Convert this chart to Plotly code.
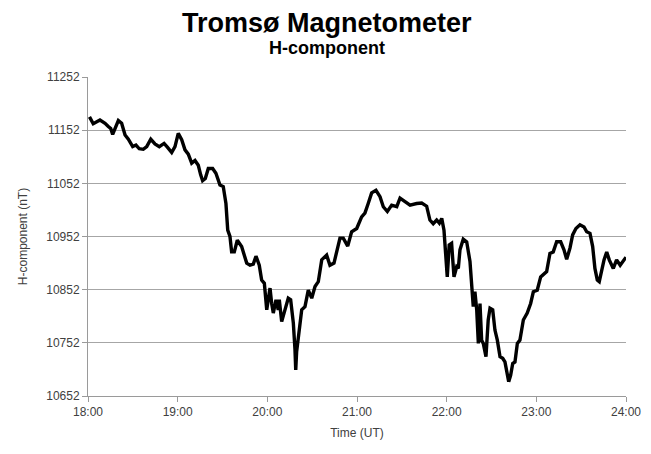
import plotly.graph_objects as go

# minutes after 18:00 UT
minutes = [1, 3.5, 8, 11.4, 13.6, 15.2, 16.5, 18.1, 20.3, 22.5, 24.8, 27, 29.9, 32.1, 34.3, 37, 39.3, 42, 44.8, 47.7,
           50.9, 53.1, 56, 58.2, 60.4, 62.7, 64.9, 67.1, 69.4, 71.6, 73.8, 75.4, 76.7, 78.5, 80.5, 83.4, 85.6, 88.3,
           90.5, 92.3, 93.5, 95, 96.1, 97.9, 99.9, 102.8, 106.2, 108.4, 110.6, 112.4, 114.6, 116.2, 118, 119.6, 120.6,
           121.8, 122.9, 124, 125.8, 127.3, 128, 129.6, 131.8, 134, 135.6, 137.4, 138.5, 139, 139.6, 141.4, 143, 145.2,
           146.3, 147.4, 149.7, 151.9, 154.1, 156.4, 159.7, 161.9, 164.6, 166.8, 168.6, 170.8, 173.8, 176.4, 179.8,
           183.1, 185.3, 187.5, 189.8, 192.7, 195.4, 197.6, 200.3, 203.2, 206.6, 208.8, 212.1, 215.5, 219.9, 223.3,
           226.6, 228.8, 231, 233.3, 235.1, 236.7, 238.2, 239.5, 240.4, 241.7, 243.3, 244.9, 246.7, 247.8, 248.9,
           251.1, 253.4, 255.6, 256.7, 257.8, 258.9, 260.1, 261.2, 262.3, 263.4, 264.5, 266.3, 267.8, 269, 270.8,
           272.3, 273.9, 275.7, 277.5, 279, 280.1, 281.5, 282.8, 284.2, 285.7, 287.3, 289, 291.3, 293.9, 296.2, 298,
           300.6, 302.9, 305.1, 306.9, 309.1, 311.3, 313.6, 316.3, 318.5, 320.3, 322.5, 324.3, 326.5, 329.2, 331.9,
           333.7, 335.9, 337.7, 339.2, 340.8, 342.1, 343.7, 345.3, 347.1, 348.8, 351.5, 353.7, 356.1, 358.3, 360]

h_nT = [11177, 11164, 11171, 11165, 11159, 11155, 11144, 11155, 11170, 11165, 11143, 11135, 11121, 11124, 11117, 11116,
        11121, 11135, 11126, 11121, 11127, 11120, 11110, 11121, 11146, 11134, 11115, 11107, 11090, 11095, 11086, 11068,
        11057, 11061, 11080, 11080, 11071, 11049,
        11046, 11014, 10964, 10952, 10923, 10923, 10945, 10933, 10902, 10898, 10900, 10915, 10898, 10870, 10864, 10814,
        10833, 10855, 10826, 10808, 10833, 10814, 10833, 10792, 10814, 10836, 10833, 10789, 10739, 10701, 10735, 10776,
        10814, 10820, 10833, 10851, 10836, 10858, 10867, 10908, 10917, 10898, 10902, 10927, 10949, 10949, 10934, 10961,
        10967, 10989, 10996, 11014, 11034, 11039, 11027, 11008, 10999, 11011, 11008, 11024, 11017, 11011, 11014, 11015,
        11009, 10983, 10976, 10983, 10977, 10986, 10964, 10920, 10876, 10936, 10939, 10876, 10895, 10892, 10927, 10947,
        10942, 10905, 10870, 10820, 10848, 10814, 10751, 10826, 10757, 10751, 10726, 10795, 10817, 10814, 10776, 10757,
        10726, 10723, 10716, 10698, 10679, 10691, 10713, 10716, 10751, 10757, 10795, 10808, 10826, 10848, 10851, 10876,
        10881, 10886, 10920, 10923, 10942, 10942, 10927, 10909, 10930, 10955, 10967, 10974, 10970, 10961, 10958, 10933,
        10892, 10870, 10867, 10889, 10908, 10923, 10908, 10892, 10908, 10898, 10908, 10913]

tick_minutes = [0, 60, 120, 180, 240, 300, 360]
tick_labels = ["18:00", "19:00", "20:00", "21:00", "22:00", "23:00", "24:00"]
y_ticks = [10652, 10752, 10852, 10952, 11052, 11152, 11252]

fig = go.Figure()
fig.add_trace(go.Scatter(x=minutes, y=h_nT, mode="lines",
                         line=dict(color="black", width=3.4), hoverinfo="skip", showlegend=False))

font_family = "Liberation Sans, Arial, sans-serif"
fig.update_layout(
    width=651, height=454,
    margin=dict(l=88, r=25, t=77, b=58, autoexpand=False),
    paper_bgcolor="white", plot_bgcolor="white",
    font=dict(family=font_family, size=12, color="#404040"),
    xaxis=dict(range=[0, 360], tickvals=tick_minutes, ticktext=tick_labels,
               showgrid=False, zeroline=False, showline=True, linecolor="#9a9a9a", linewidth=1,
               ticks="outside", ticklen=5, tickcolor="#9a9a9a", automargin=False,
               tickfont=dict(size=12, color="#404040"),
               title=dict(text="Time (UT)", font=dict(size=12, color="#404040"), standoff=10)),
    yaxis=dict(range=[10652, 11252], tickvals=y_ticks, ticktext=[str(v) for v in y_ticks],
               showgrid=True, gridcolor="#a6a6a6", gridwidth=1, zeroline=False,
               showline=True, linecolor="#9a9a9a", linewidth=1,
               ticks="outside", ticklen=5, tickcolor="#9a9a9a", automargin=False,
               tickfont=dict(size=12, color="#404040"),
               title=dict(text="H-component (nT)", font=dict(size=12, color="#404040"), standoff=16)),
    annotations=[
        dict(text="<b>Tromsø Magnetometer</b>", x=327, xref="paper", y=23, yref="paper",
             showarrow=False, xanchor="center", yanchor="middle",
             font=dict(size=27, color="black", family=font_family)),
        dict(text="<b>H-component</b>", x=327, xref="paper", y=48, yref="paper",
             showarrow=False, xanchor="center", yanchor="middle",
             font=dict(size=18, color="black", family=font_family)),
    ],
)
# convert desired pixel positions to paper coordinates
plot_w = 651 - 88 - 25
plot_h = 454 - 77 - 58
for ann in fig.layout.annotations:
    ann.x = (ann.x - 88) / plot_w
    ann.y = 1 + (77 - ann.y) / plot_h

fig.write_html("out.html", config={"displayModeBar": False},
               post_script="document.body.style.margin='0px';document.body.style.overflow='hidden';")
